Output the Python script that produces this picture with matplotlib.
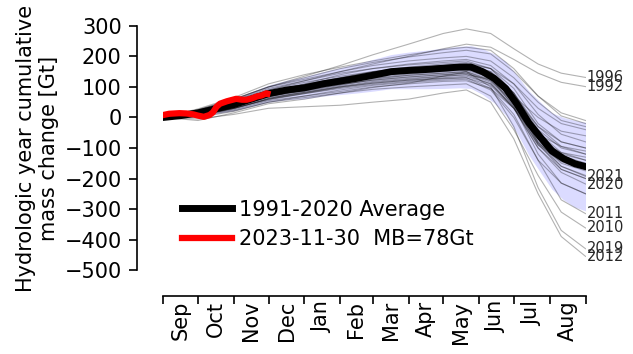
import numpy as np
import matplotlib
matplotlib.use("Agg")
import matplotlib.pyplot as plt

# 月份边界（水文年，从9月1日起算的天数）
month_starts = [0, 30, 61, 91, 122, 153, 181, 212, 242, 273, 303, 334, 365]
month_names = ['Sep', 'Oct', 'Nov', 'Dec', 'Jan', 'Feb', 'Mar', 'Apr', 'May', 'Jun', 'Jul', 'Aug']

# 各年份曲线的采样天数
year_days = [0, 30, 61, 91, 122, 153, 181, 212, 242, 262, 283, 303, 324, 344, 365]

y1991 = [0, 12, 38, 70, 90, 115, 135, 150, 162, 170, 150, 80, -30, -95, -120]
y1992 = [0, 20, 50, 90, 120, 150, 175, 200, 225, 240, 230, 190, 145, 115, 101]
y1993 = [0, 8, 30, 60, 80, 100, 115, 125, 135, 140, 125, 70, 0, -45, -60]
y1994 = [0, 18, 45, 80, 100, 120, 140, 150, 158, 160, 140, 70, -30, -80, -100]
y1995 = [0, 10, 35, 65, 82, 100, 112, 122, 128, 130, 105, 30, -90, -145, -170]
y1996 = [0, 25, 60, 100, 135, 170, 205, 240, 275, 290, 275, 225, 175, 145, 131]
y1997 = [0, 15, 45, 85, 110, 140, 160, 175, 185, 190, 170, 110, 10, -55, -80]
y1998 = [0, 5, 28, 62, 85, 105, 125, 138, 145, 150, 120, 40, -90, -160, -190]
y1999 = [0, 20, 55, 90, 115, 135, 150, 162, 170, 175, 160, 110, 30, -20, -40]
y2000 = [0, 8, 25, 55, 70, 85, 100, 110, 118, 120, 95, 30, -70, -115, -130]
y2001 = [0, 12, 35, 68, 88, 108, 122, 133, 140, 145, 120, 50, -55, -95, -110]
y2002 = [0, 22, 55, 95, 120, 145, 160, 172, 180, 185, 160, 80, -50, -125, -150]
y2003 = [0, 14, 40, 75, 95, 118, 135, 148, 158, 165, 135, 55, -85, -170, -200]
y2004 = [0, 6, 30, 58, 78, 98, 112, 122, 130, 135, 110, 35, -85, -140, -160]
y2005 = [0, 16, 40, 72, 92, 112, 128, 138, 145, 150, 125, 45, -80, -150, -175]
y2006 = [0, 10, 35, 70, 92, 115, 130, 142, 150, 155, 130, 55, -65, -120, -140]
y2007 = [0, 18, 42, 78, 100, 120, 138, 150, 157, 160, 130, 35, -120, -215, -250]
y2008 = [0, 10, 30, 62, 82, 102, 118, 128, 135, 140, 110, 30, -100, -170, -200]
y2009 = [0, 20, 48, 85, 108, 130, 148, 160, 166, 170, 145, 70, -50, -115, -140]
y2010 = [0, 5, 22, 50, 65, 80, 92, 100, 106, 110, 70, -40, -190, -310, -362]
y2011 = [0, 8, 30, 60, 78, 95, 108, 118, 126, 130, 95, 10, -140, -270, -315]
y2012 = [0, -5, 10, 30, 35, 40, 50, 60, 80, 90, 50, -70, -250, -390, -455]
y2013 = [0, 25, 60, 100, 125, 150, 170, 185, 195, 200, 185, 130, 50, -10, -30]
y2014 = [0, 15, 42, 80, 102, 125, 145, 160, 170, 175, 150, 80, -40, -100, -120]
y2015 = [0, 18, 48, 85, 108, 130, 150, 165, 175, 180, 160, 95, -20, -80, -100]
y2016 = [0, 0, 20, 50, 70, 90, 105, 115, 122, 125, 90, 0, -140, -215, -250]
y2017 = [0, 28, 65, 110, 140, 165, 185, 205, 222, 230, 220, 160, 70, 5, -20]
y2018 = [0, 22, 58, 100, 130, 160, 180, 198, 212, 220, 208, 150, 70, 15, -10]
y2019 = [0, -10, 15, 45, 60, 80, 98, 112, 135, 150, 100, -30, -230, -370, -430]
y2020 = [0, 12, 35, 68, 88, 108, 122, 132, 140, 145, 115, 30, -100, -180, -218]
y2021 = [0, 15, 40, 75, 95, 118, 135, 147, 155, 160, 135, 55, -80, -160, -193]
y2022 = [0, 16, 45, 82, 105, 128, 145, 157, 165, 170, 145, 70, -55, -140, -170]

years = {
    1991: y1991, 1992: y1992, 1993: y1993, 1994: y1994, 1995: y1995, 1996: y1996,
    1997: y1997, 1998: y1998, 1999: y1999, 2000: y2000, 2001: y2001, 2002: y2002,
    2003: y2003, 2004: y2004, 2005: y2005, 2006: y2006, 2007: y2007, 2008: y2008,
    2009: y2009, 2010: y2010, 2011: y2011, 2012: y2012, 2013: y2013, 2014: y2014,
    2015: y2015, 2016: y2016, 2017: y2017, 2018: y2018, 2019: y2019, 2020: y2020,
    2021: y2021, 2022: y2022,
}
labeled_years = [1996, 1992, 2021, 2020, 2011, 2010, 2019, 2012]

# 1991-2020 平均值和标准差
avg_days = [0, 15, 30, 45, 61, 76, 91, 107, 122, 138, 153, 167, 181, 197, 212, 227,
            242, 256, 266, 276, 286, 296, 306, 316, 326, 336, 346, 356, 365]
avg_vals = [0, 6, 15, 28, 42, 60, 78, 90, 97, 110, 119, 128, 138, 150, 154, 157,
            161, 165, 165, 150, 128, 95, 42, -18, -65, -110, -135, -152, -161]
avg_std = [3, 8, 12, 16, 20, 24, 28, 32, 36, 40, 44, 48, 52, 56, 60, 63,
           66, 68, 70, 75, 80, 88, 95, 105, 115, 125, 135, 142, 145]

# 2023 当前年份
cur_days = [0, 5, 14, 20, 26, 30, 35, 40, 43, 46, 49, 55, 60, 63, 68, 72, 77, 81, 85, 89, 90]
cur_vals = [8, 12, 14, 13, 10, 6, 2, 8, 17, 35, 45, 53, 58, 61, 58, 58, 63, 69, 72, 79, 78]

fig = plt.figure(figsize=(6.33, 3.54), dpi=100)
ax = fig.add_axes([0.258, 0.237, 0.667, 0.690])

avg = np.array(avg_vals)
std = np.array(avg_std)
ax.fill_between(avg_days, avg - std, avg + std, color=(0.86, 0.86, 1.0), lw=0, zorder=1)

for yr, vals in years.items():
    ax.plot(year_days, vals, color='k', alpha=0.3, lw=0.8, zorder=2)
    if yr in labeled_years:
        ax.annotate(str(yr), (year_days[-1], vals[-1]), xytext=(1, 0),
                    textcoords='offset points', va='center', ha='left',
                    fontsize=10.5, color='0.15', annotation_clip=False)

ax.plot(avg_days, avg_vals, color='k', lw=5, zorder=3, label='1991-2020 Average')
ax.plot(cur_days, cur_vals, color='red', lw=4.5, zorder=4,
        label='2023-11-30  MB=%dGt' % cur_vals[-1])

ax.set_xlim(0, 365)
ax.set_ylim(-500, 300)
ax.set_yticks(np.arange(-500, 301, 100))

# 月份刻度在边界，标签在月中
ax.set_xticks(month_starts)
ax.set_xticklabels([])
mids = [(month_starts[i] + month_starts[i + 1]) / 2 for i in range(12)]
ax.set_xticks(mids, minor=True)
ax.set_xticklabels(month_names, minor=True)
ax.tick_params(axis='x', which='minor', length=0, pad=3, labelrotation=90, labelsize=15)
ax.tick_params(axis='x', which='major', length=6, width=1.2)
ax.tick_params(axis='y', length=6, width=1.2, labelsize=15, pad=5)

for s in ['top', 'right']:
    ax.spines[s].set_visible(False)
ax.spines['left'].set_position(('outward', 19))
ax.spines['bottom'].set_position(('outward', 19))
ax.spines['left'].set_bounds(-500, 300)
ax.spines['bottom'].set_bounds(0, 365)
ax.spines['left'].set_linewidth(1.2)
ax.spines['bottom'].set_linewidth(1.2)

ax.set_ylabel('Hydrologic year cumulative\nmass change [Gt]', fontsize=15)

ax.legend(loc='lower left', bbox_to_anchor=(0.0, 0.01), frameon=False,
          fontsize=15, handlelength=2.4, handletextpad=0.35, labelspacing=0.45)

fig.savefig('out.png', dpi=100)
